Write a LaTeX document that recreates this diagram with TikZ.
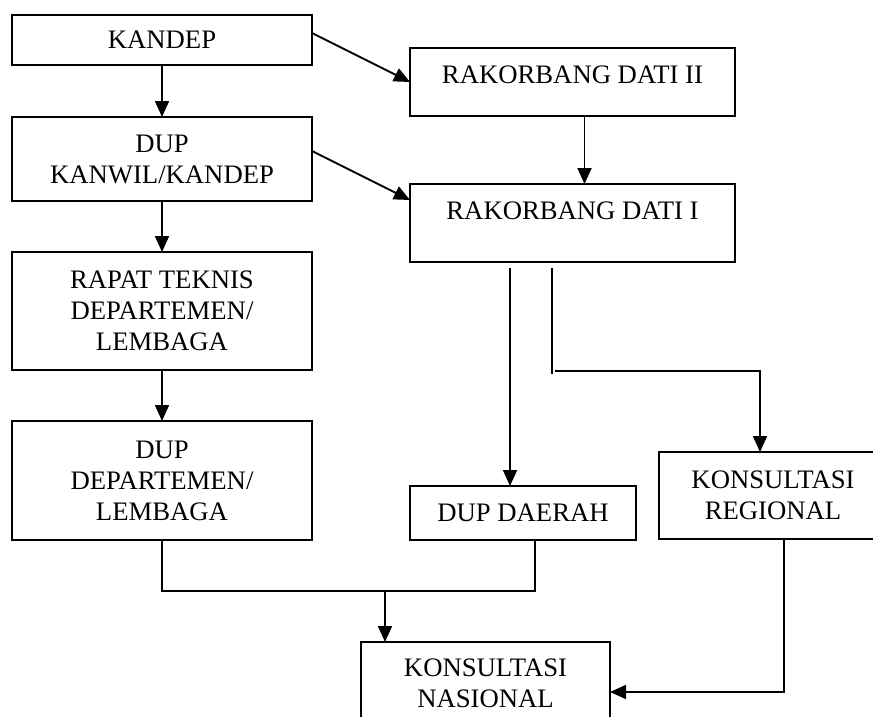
\documentclass[tikz,border=0pt]{standalone}
\usepackage{fontspec}
\setmainfont{Liberation Serif}
\usetikzlibrary{arrows.meta}
\begin{document}
\begin{tikzpicture}[x=1pt,y=-1pt,
  box/.style={draw, line width=1.8pt, inner sep=0pt, outer sep=0pt, align=center,
    font=\fontsize{26.7pt}{31pt}\selectfont},
  conn/.style={line width=1.8pt},
  arr/.style={line width=1.8pt, -{Triangle[length=16pt,width=14pt]}}]
\useasboundingbox (0,0) rectangle (873,717);
\clip (0,0) rectangle (873,717);
% left column
\node[box, minimum width=300pt, minimum height=50pt] (kandep) at (162,40) {KANDEP};
\node[box, minimum width=300pt, minimum height=84pt] (kanwil) at (162,159) {DUP\\KANWIL/KANDEP};
\node[box, minimum width=300pt, minimum height=118pt] (rapat) at (162,311) {RAPAT TEKNIS\\DEPARTEMEN/\\LEMBAGA};
\node[box, minimum width=300pt, minimum height=119pt] (dupdep) at (162,480.5) {DUP\\DEPARTEMEN/\\LEMBAGA};
% right column
\node[box, minimum width=325pt, minimum height=68pt, text height=17.6pt, text depth=14pt] (r2) at (572.5,82) {RAKORBANG DATI II};
\node[box, minimum width=325pt, minimum height=78pt, text height=17.6pt, text depth=24pt] (r1) at (572.5,223) {RAKORBANG DATI I};
\node[box, minimum width=226pt, minimum height=54pt] (dupda) at (523,513) {DUP DAERAH};
\node[box, minimum width=228pt, minimum height=87pt] (kr) at (773,495.5) {KONSULTASI\\REGIONAL};
\node[box, minimum width=249pt, minimum height=82pt] (kn) at (485.5,683) {KONSULTASI\\NASIONAL};
% vertical arrows left
\draw[arr] (kandep.south) -- (kanwil.north);
\draw[arr] (kanwil.south) -- (rapat.north);
\draw[arr] (rapat.south) -- (dupdep.north);
% diagonals
\draw[arr] ([yshift=7pt]kandep.east) -- (r2.west);
\draw[arr] ([yshift=8pt]kanwil.east) -- ([yshift=23pt]r1.west);
\draw[arr] ([xshift=12pt]r2.south) -- ([xshift=12pt]r1.north);
% from RAKORBANG DATI I
\coordinate (a1) at ([xshift=-62.5pt,yshift=-6pt]r1.south);
\draw[arr] (a1) -- (a1 |- dupda.north);
\coordinate (b1) at ([xshift=-20.5pt,yshift=-6pt]r1.south);
\coordinate (b2) at ([yshift=-106pt]b1);
\draw[conn] (b1) -- (b2);
\coordinate (c1) at ([xshift=3pt,yshift=3pt]b2);
\draw[arr] (c1) -| ([xshift=-13pt]kr.north);
% to KONSULTASI NASIONAL
\draw[arr] ([xshift=11pt]kr.south) |- ([yshift=-9pt]kn.east);
\draw[conn] (dupdep.south) -- ++(0,51) coordinate (m1) -| ([xshift=12pt]dupda.south);
\coordinate (kin) at ([xshift=-100.5pt]kn.north);
\draw[arr] (kin |- m1) -- (kin);
\end{tikzpicture}
\end{document}
